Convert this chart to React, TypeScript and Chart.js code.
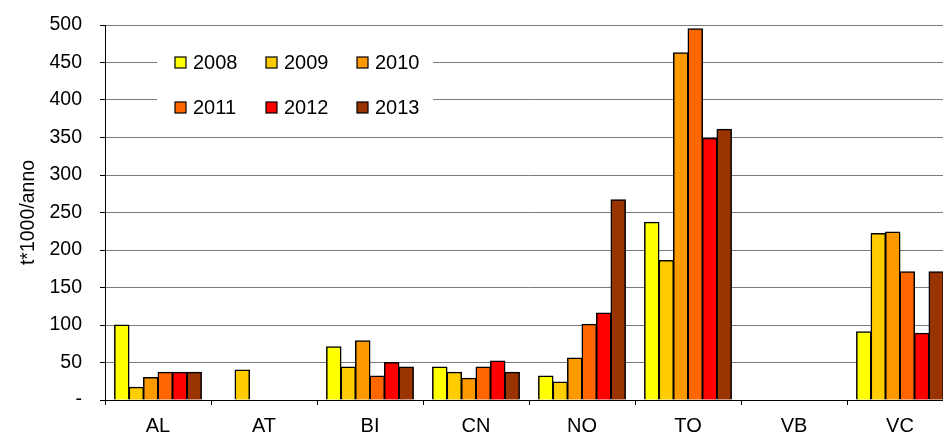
import React, { useEffect, useRef } from "react";
import { Chart, registerables } from "chart.js";

Chart.register(...registerables);

const categories = ["AL", "AT", "BI", "CN", "NO", "TO", "VB", "VC"];
const years = ["2008", "2009", "2010", "2011", "2012", "2013"];
const colors = ["#FFFF00", "#FFCC00", "#FF9900", "#FF6600", "#FF0000", "#993300"];

const v2008 = [100, null, 71, 44, 32, 237, null, 91];
const v2009 = [17, 40, 44, 37, 24, 186, null, 222];
const v2010 = [30, null, 79, 29, 56, 463, null, 224];
const v2011 = [37, null, 32, 44, 101, 495, null, 171];
const v2012 = [37, null, 50, 52, 116, 349, null, 89];
const v2013 = [37, null, 44, 37, 267, 361, null, 171];
const series = [v2008, v2009, v2010, v2011, v2012, v2013];

const yTitle = "t*1000/anno";
const FONT = "'Liberation Sans', Arial, sans-serif";

const legendPlugin = {
  id: "insideLegend",
  afterDraw(chart: any) {
    const ctx = chart.ctx;
    ctx.save();
    ctx.fillStyle = "#ffffff";
    ctx.fillRect(157, 40, 276, 88);
    const colX = [175, 266, 357];
    const rowY = [62.5, 107.5];
    ctx.font = `20px ${FONT}`;
    ctx.textBaseline = "middle";
    ctx.textAlign = "left";
    years.forEach((y, i) => {
      const cx = colX[i % 3];
      const cy = rowY[Math.floor(i / 3)];
      ctx.fillStyle = colors[i];
      ctx.fillRect(cx, cy - 5.5, 11, 11);
      ctx.strokeStyle = "#000";
      ctx.lineWidth = 1.2;
      ctx.strokeRect(cx, cy - 5.5, 11, 11);
      ctx.fillStyle = "#000";
      ctx.fillText(y, cx + 18, cy + 1);
    });
    ctx.restore();
  },
};

export default function App() {
  const ref = useRef<HTMLCanvasElement | null>(null);
  useEffect(() => {
    if (!ref.current) return;
    const chart = new Chart(ref.current, {
      type: "bar",
      data: {
        labels: categories,
        datasets: series.map((s, i) => ({
          label: years[i],
          data: s,
          backgroundColor: colors[i],
          borderColor: "#000",
          borderWidth: 1.5,
          borderSkipped: "start",
          categoryPercentage: 0.82,
          barPercentage: 1,
          inflateAmount: 0.5,
        })),
      },
      options: {
        responsive: false,
        animation: false,
        layout: { padding: { top: 25, right: 7, left: 0, bottom: 0 } },
        plugins: { legend: { display: false }, tooltip: { enabled: false } },
        scales: {
          x: {
            grid: {
              offset: true,
              drawOnChartArea: false,
              drawTicks: true,
              tickLength: 5,
              color: "#000",
            },
            border: { color: "#000", width: 1 },
            ticks: {
              color: "#000",
              font: { family: FONT, size: 20 },
              padding: 9,
              maxRotation: 0,
              autoSkip: false,
            },
            afterFit: (scale: any) => {
              scale.height = 37;
              scale.paddingLeft = 0;
              scale.paddingRight = 0;
            },
          },
          y: {
            min: 0,
            max: 500,
            grid: {
              color: "#7a7a7a",
              tickLength: 5,
              tickColor: "#000",
            },
            border: { color: "#000", width: 1 },
            ticks: {
              stepSize: 50,
              color: "#000",
              font: { family: FONT, size: 19.5 },
              padding: 18,
              callback: (v: any) => (v === 0 ? "-" : String(v)),
            },
            title: {
              display: true,
              text: yTitle,
              color: "#000",
              font: { family: FONT, size: 19.5 },
              padding: { top: 17, bottom: 0 },
            },
            afterFit: (scale: any) => {
              scale.width = 105;
              scale.paddingTop = 0;
              scale.paddingBottom = 0;
            },
          },
        },
      },
      plugins: [legendPlugin],
    });
    return () => chart.destroy();
  }, []);
  return (
    <div
      style={{
        position: "fixed",
        left: 0,
        top: 0,
        width: 943,
        height: 437,
        overflow: "hidden",
        background: "#fff",
      }}
    >
      <canvas ref={ref} width={960} height={437} style={{ display: "block" }} />
    </div>
  );
}
